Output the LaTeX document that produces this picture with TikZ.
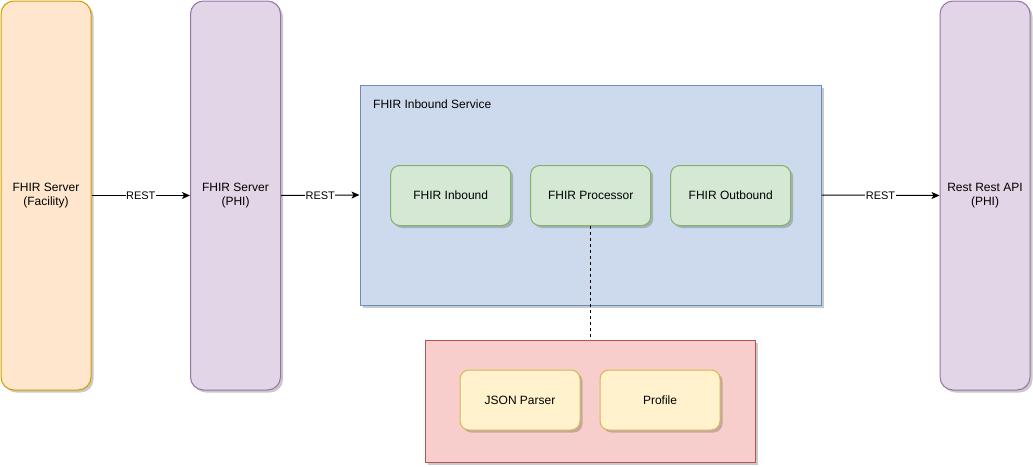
\documentclass[tikz,border=0pt]{standalone}
\usepackage{fontspec}
\setmainfont{Liberation Sans}
\usetikzlibrary{shadows,arrows.meta}
\definecolor{orf}{HTML}{FFE6CC}\definecolor{ors}{HTML}{D79B00}
\definecolor{puf}{HTML}{E1D5E7}\definecolor{pus}{HTML}{9673A6}
\definecolor{blf}{HTML}{CDDAEE}\definecolor{bls}{HTML}{6C8EBF}
\definecolor{grf}{HTML}{D5E8D4}\definecolor{grs}{HTML}{82B366}
\definecolor{pkf}{HTML}{F8CECC}\definecolor{pks}{HTML}{B85450}
\definecolor{ylf}{HTML}{FFF2CC}\definecolor{yls}{HTML}{D6B656}
\tikzset{
  shad/.style={drop shadow={shadow xshift=2.5pt,shadow yshift=-2.5pt,opacity=0.3,fill=black!70}},
  txt/.style={font=\fontsize{12}{14}\selectfont, text=black, align=center},
  tall/.style={shad, txt, draw, line width=1pt, rounded corners=13pt, minimum width=90pt, minimum height=389pt, inner sep=0pt},
  cont/.style={shad, draw, line width=1pt, inner sep=0pt},
  comp/.style={shad, txt, draw, line width=1pt, rounded corners=9pt, minimum width=120pt, minimum height=60pt, inner sep=0pt},
  conn/.style={line width=1pt, -{Stealth[length=8pt,width=7pt,inset=2pt]}},
  elab/.style={font=\fontsize{11}{13}\selectfont, fill=white, inner sep=0.5pt, text=black},
}
\begin{document}
\begin{tikzpicture}[x=1pt,y=-1pt]
\useasboundingbox (0,0) rectangle (1033,466);
\node[tall, fill=orf, draw=ors] (fac) at (46,195.5) {FHIR Server\\(Facility)};
\node[tall, fill=puf, draw=pus] (phi) at (235.5,195.5) {FHIR Server\\(PHI)};
\node[tall, fill=puf, draw=pus] (rest) at (985,195.5) {Rest Rest API\\(PHI)};
\node[cont, fill=blf, draw=bls, minimum width=461pt, minimum height=220pt] (svc) at (590.5,195) {};
\node[txt, anchor=west, inner sep=0pt] (svclbl) at (373,104) {FHIR Inbound Service};
\node[comp, fill=grf, draw=grs] (inb) at (450.7,195.5) {FHIR Inbound};
\node[comp, fill=grf, draw=grs] (proc) at (590.7,195.5) {FHIR Processor};
\node[comp, fill=grf, draw=grs] (outb) at (730.7,195.5) {FHIR Outbound};
\node[cont, fill=pkf, draw=pks, minimum width=330pt, minimum height=122pt] (lib) at (590.5,401) {};
\node[comp, fill=ylf, draw=yls] (json) at (520,400) {JSON Parser};
\node[comp, fill=ylf, draw=yls] (prof) at (660,400) {Profile};
\draw[conn] (fac.east) -- node[elab] {REST} (phi.west);
\draw[conn] (phi.east) -- node[elab] {REST} (svc.west);
\draw[conn] (svc.east) -- node[elab] {REST} (rest.west);
\draw[line width=1pt, dashed, dash pattern=on 3pt off 3pt] (proc.south) -- (proc.south |- lib.north);
\end{tikzpicture}
\end{document}
